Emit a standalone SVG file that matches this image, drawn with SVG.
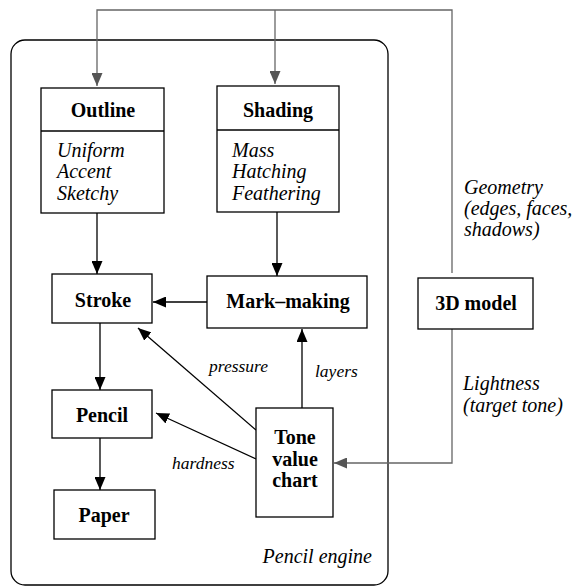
<svg xmlns="http://www.w3.org/2000/svg" width="574" height="587" viewBox="0 0 574 587">
<defs>
<marker id="ab" markerWidth="14" markerHeight="11" refX="13" refY="5.5" orient="auto" markerUnits="userSpaceOnUse"><path d="M0,0 L13,5.5 L0,11 z" fill="#000"/></marker>
<marker id="ag" markerWidth="14" markerHeight="11" refX="13" refY="5.5" orient="auto" markerUnits="userSpaceOnUse"><path d="M0,0 L13,5.5 L0,11 z" fill="#555"/></marker>
</defs>
<rect width="574" height="587" fill="#fff"/>
<g id="engine">
<rect x="11" y="40" width="377" height="545" rx="14" ry="14" fill="none" stroke="#000" stroke-width="1.3"/>
<text font-family="Liberation Serif" font-size="20" font-style="italic" x="372" y="563" text-anchor="end">Pencil engine</text>
</g>
<g id="connectors" fill="none" stroke-width="1.3">
<g stroke="#666" marker-end="url(#ag)">
<path d="M452,273 V10 H97 V86"/>
<path d="M275,10 V84"/>
<path d="M452,329 V463 H334"/>
</g>
<g stroke="#000" marker-end="url(#ab)">
<path d="M97,213 V274"/>
<path d="M277,212 V276"/>
<path d="M207,302 H153"/>
<path d="M100,323 V390"/>
<path d="M100,438 V490"/>
<path d="M302,408 V329"/>
<path d="M256,430 L138,328"/>
<path d="M256,459 L156,413"/>
</g>
</g>
<g id="labels" font-family="Liberation Serif" font-style="italic" fill="#000">
<text font-size="17.5" x="315" y="377">layers</text>
<text font-size="17.5" x="209" y="372">pressure</text>
<text font-size="17.5" x="172" y="469">hardness</text>
<text font-size="20" x="464" y="194">Geometry</text>
<text font-size="20" x="464" y="215">(edges, faces,</text>
<text font-size="20" x="464" y="236">shadows)</text>
<text font-size="20" x="463" y="390">Lightness</text>
<text font-size="20" x="463" y="412">(target tone)</text>
</g>
<g id="outline" font-family="Liberation Serif" font-size="20">
<rect x="41" y="88" width="123" height="125" fill="#fff" stroke="#000" stroke-width="1.3"/>
<line x1="41" y1="131" x2="164" y2="131" stroke="#000" stroke-width="1.3"/>
<text font-weight="bold" text-anchor="middle" x="103" y="117">Outline</text>
<text font-style="italic" x="57" y="157">Uniform</text>
<text font-style="italic" x="57" y="178">Accent</text>
<text font-style="italic" x="57" y="200">Sketchy</text>
</g>
<g id="shading" font-family="Liberation Serif" font-size="20">
<rect x="217" y="86" width="122" height="126" fill="#fff" stroke="#000" stroke-width="1.3"/>
<line x1="217" y1="130" x2="339" y2="130" stroke="#000" stroke-width="1.3"/>
<text font-weight="bold" text-anchor="middle" x="278" y="117">Shading</text>
<text font-style="italic" x="232" y="157">Mass</text>
<text font-style="italic" x="232" y="178">Hatching</text>
<text font-style="italic" x="232" y="200">Feathering</text>
</g>
<g id="stroke" font-family="Liberation Serif" font-size="20" font-weight="bold" text-anchor="middle">
<rect x="52" y="274" width="100" height="49" fill="#fff" stroke="#000" stroke-width="1.3"/>
<text x="103" y="307">Stroke</text>
</g>
<g id="markmaking" font-family="Liberation Serif" font-size="20" font-weight="bold" text-anchor="middle">
<rect x="207" y="276" width="160" height="52" fill="#fff" stroke="#000" stroke-width="1.3"/>
<text x="288" y="308">Mark–making</text>
</g>
<g id="pencil" font-family="Liberation Serif" font-size="20" font-weight="bold" text-anchor="middle">
<rect x="52" y="390" width="100" height="48" fill="#fff" stroke="#000" stroke-width="1.3"/>
<text x="102" y="422">Pencil</text>
</g>
<g id="paper" font-family="Liberation Serif" font-size="20" font-weight="bold" text-anchor="middle">
<rect x="54" y="490" width="101" height="49" fill="#fff" stroke="#000" stroke-width="1.3"/>
<text x="104" y="522">Paper</text>
</g>
<g id="tone" font-family="Liberation Serif" font-size="20" font-weight="bold" text-anchor="middle">
<rect x="256" y="408" width="77" height="109" fill="#fff" stroke="#000" stroke-width="1.3"/>
<text x="295" y="444">Tone</text>
<text x="295" y="466">value</text>
<text x="295" y="487">chart</text>
</g>
<g id="model" font-family="Liberation Serif" font-size="20" font-weight="bold" text-anchor="middle">
<rect x="418" y="278" width="115" height="51" fill="#fff" stroke="#000" stroke-width="1.3"/>
<text x="476" y="310">3D model</text>
</g>
</svg>
